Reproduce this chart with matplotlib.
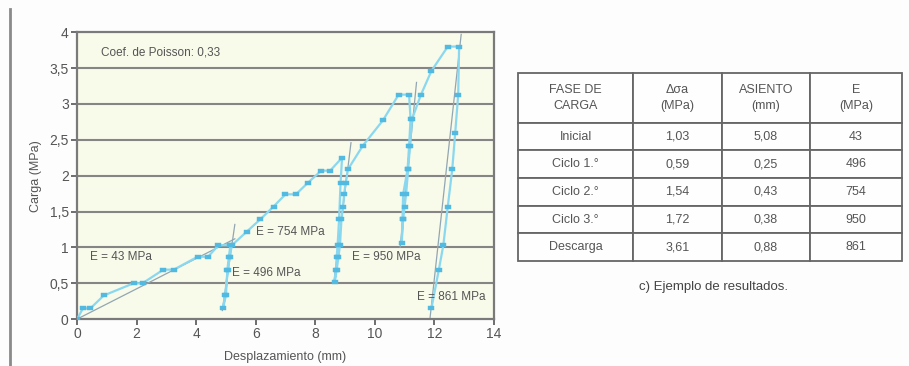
import matplotlib.pyplot as plt
from matplotlib.lines import Line2D
import numpy as np

plt.rcParams['font.family'] = ['Liberation Sans', 'DejaVu Sans']

# ensayo de carga con placa: trayectoria completa (carga, ciclos y descarga)
despl = [0.0, 0.2, 0.45, 0.9, 1.9, 2.2, 2.9, 3.25, 4.05, 4.4, 4.75, 5.15,
         5.1, 5.05, 5.0, 4.9,
         4.97, 5.07, 5.13, 5.2,
         5.7, 6.15, 6.6, 7.0, 7.35, 7.75, 8.2, 8.5, 8.9,
         8.85, 8.8, 8.75, 8.72, 8.7, 8.65,
         8.72, 8.78, 8.83, 8.88, 8.93, 8.97, 9.02, 9.1,
         9.6, 10.27, 10.8, 11.15,
         11.2, 11.15, 11.1, 10.95, 10.93, 10.9,
         10.95, 11.0, 11.05, 11.12, 11.18, 11.25, 11.55,
         11.9, 12.45, 12.83,
         12.8, 12.7, 12.6, 12.45, 12.3, 12.15, 11.9]
carga = [0.0, 0.15, 0.15, 0.33, 0.5, 0.5, 0.69, 0.69, 0.87, 0.87, 1.03, 1.03,
         0.87, 0.69, 0.33, 0.15,
         0.33, 0.69, 0.87, 1.03,
         1.22, 1.39, 1.57, 1.74, 1.74, 1.9, 2.07, 2.07, 2.25,
         1.9, 1.39, 1.03, 0.87, 0.69, 0.52,
         0.69, 0.87, 1.03, 1.39, 1.57, 1.74, 1.9, 2.09,
         2.42, 2.77, 3.13, 3.13,
         2.79, 2.41, 2.09, 1.74, 1.39, 1.06,
         1.39, 1.57, 1.74, 2.09, 2.41, 2.79, 3.13,
         3.46, 3.8, 3.8,
         3.13, 2.6, 2.09, 1.57, 1.03, 0.69, 0.15]

# rectas de ajuste del modulo en cada tramo
rectas = [
    ([0.0, 5.3], [0.0, 1.12]),
    ([4.88, 5.3], [0.12, 1.32]),
    ([8.62, 9.2], [0.5, 2.46]),
    ([10.85, 11.4], [1.0, 3.3]),
    ([11.85, 12.9], [0.0, 3.97]),
]

etiquetas = ['Coef. de Poisson: 0,33', 'E = 43 MPa', 'E = 496 MPa',
             'E = 754 MPa', 'E = 950 MPa', 'E = 861 MPa']
pos_etiquetas = [(0.8, 3.72), (0.45, 0.87), (5.2, 0.64),
                 (6.0, 1.22), (9.25, 0.87), (11.4, 0.31)]

yticks = [0, 0.5, 1, 1.5, 2, 2.5, 3, 3.5, 4]
xticks = [0, 2, 4, 6, 8, 10, 12, 14]

# tabla de resultados
encabezado = ['FASE DE\nCARGA', 'Δσa\n(MPa)', 'ASIENTO\n(mm)', 'E\n(MPa)']
fases = ['Inicial', 'Ciclo 1.°', 'Ciclo 2.°', 'Ciclo 3.°', 'Descarga']
delta_sigma = ['1,03', '0,59', '1,54', '1,72', '3,61']
asiento = ['5,08', '0,25', '0,43', '0,38', '0,88']
modulo = ['43', '496', '754', '950', '861']

gris = '#555555'
fig = plt.figure(figsize=(9.09, 3.66), dpi=100)
fig.patch.set_facecolor('#fdfdfd')

# borde de pagina a la izquierda
fig.add_artist(Line2D([0.011, 0.011], [0.0, 0.975], color='#8a8a8a', lw=2))

ax = fig.add_axes([0.0847, 0.128, 0.4587, 0.784])
ax.set_facecolor('#f8faea')
ax.set_xlim(0, 14)
ax.set_ylim(0, 4)

for y in yticks[1:-1]:
    ax.axhline(y, color='#858585', lw=1.5, zorder=1)

for xs, ys in rectas:
    ax.plot(xs, ys, color='#92a6b2', lw=0.9, zorder=2)

rect = [(-1.7, -1), (1.7, -1), (1.7, 1), (-1.7, 1), (-1.7, -1)]
ax.plot(despl, carga, color='#8ad8f0', lw=1.6, zorder=3,
        marker=rect, markersize=5, markerfacecolor='#52b9e0',
        markeredgecolor='#52b9e0', markeredgewidth=0.3)

for txt, (x, y) in zip(etiquetas, pos_etiquetas):
    ax.text(x, y, txt, fontsize=8.5, color=gris, va='center', ha='left', zorder=4)

ax.set_xticks(xticks)
ax.set_yticks(yticks)
ax.set_yticklabels([f'{v:g}'.replace('.', ',') for v in yticks])
ax.tick_params(colors=gris, labelsize=10, length=4, width=1.2, pad=2)
for s in ax.spines.values():
    s.set_color('#7a7a7a')
    s.set_linewidth(1.6)
ax.set_xlabel('Desplazamiento (mm)', fontsize=9, color=gris, labelpad=7)
ax.set_ylabel('Carga (MPa)', fontsize=9, color=gris, labelpad=5)

# tabla
tax = fig.add_axes([0.5699, 0.287, 0.4224, 0.514])
tax.axis('off')
filas = [list(r) for r in zip(fases, delta_sigma, asiento, modulo)]
tabla = tax.table(cellText=filas, colLabels=encabezado, cellLoc='center',
                  bbox=[0, 0, 1, 1], colWidths=[115, 89, 88, 92])
tabla.auto_set_font_size(False)
alto_enc = 50 / 188
alto_fila = (1 - alto_enc) / len(fases)
for (r, c), cell in tabla.get_celld().items():
    cell.set_edgecolor('#666666')
    cell.set_linewidth(1.3)
    cell.set_facecolor('#fefefe')
    cell.get_text().set_color(gris)
    cell.get_text().set_fontsize(9)
    cell.set_height(alto_enc if r == 0 else alto_fila)
    if r == 0:
        cell.get_text().set_linespacing(1.5)

fig.text(0.785, 0.215, 'c) Ejemplo de resultados.', fontsize=9.5, color='#444444',
         ha='center', va='center')

fig.savefig('out.png', dpi=100, facecolor=fig.get_facecolor())
